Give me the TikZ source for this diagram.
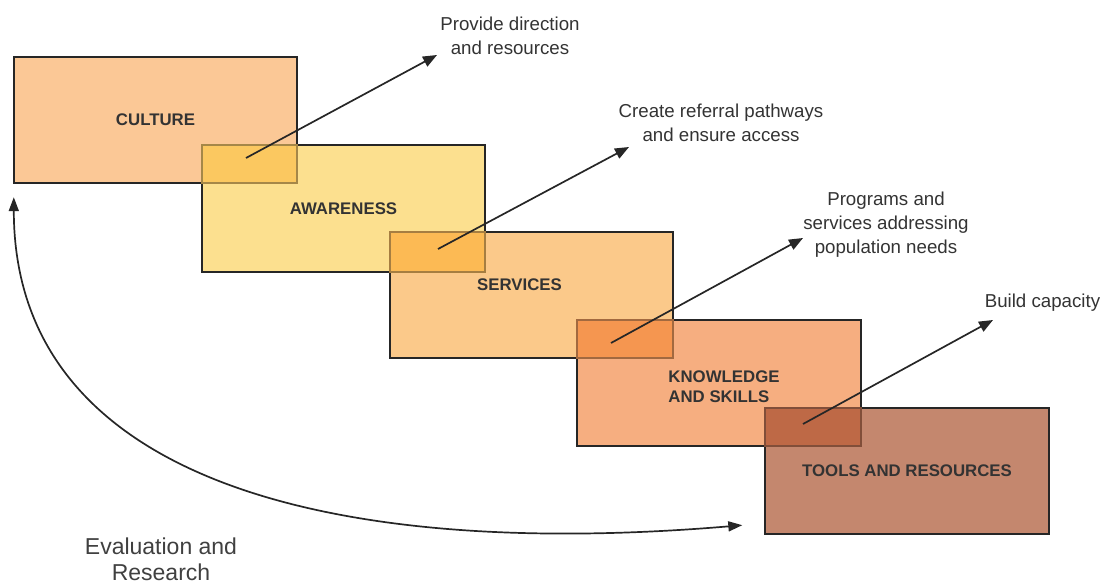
\documentclass[tikz,border=0pt]{standalone}
\usepackage{fontspec}
\setmainfont{Liberation Sans}
\usetikzlibrary{arrows.meta}

\definecolor{culturefill}{HTML}{FBC896}
\definecolor{awarefill}{HTML}{FCE08F}
\definecolor{servicefill}{HTML}{FBC98A}
\definecolor{skillfill}{HTML}{F6AE80}
\definecolor{toolfill}{HTML}{C4876E}
\definecolor{overlapone}{HTML}{FBC860}
\definecolor{overlaptwo}{HTML}{FCBA54}
\definecolor{overlapthree}{HTML}{F59650}
\definecolor{overlapfour}{HTML}{BE6946}

\tikzset{
	stagetext/.style={text=black!80, font=\bfseries\fontsize{16.8}{20}\selectfont},
	stage/.style={fill=#1, minimum width=283pt, minimum height=126pt, inner sep=0pt, stagetext},
	edge/.style={draw=black!85, line width=1.8pt},
	note/.style={align=center, text=black!80, font=\fontsize{18.7}{24}\selectfont},
	flow/.style={-{Triangle[length=14pt,width=11pt]}, line width=1.7pt, draw=black!85},
}

\begin{document}
\begin{tikzpicture}[x=1pt, y=-1pt]
		\useasboundingbox (0,0) rectangle (1105,583);
		\node[stage=culturefill] (culture) at (155.5,120) {CULTURE};
		\node[stage=awarefill] (awareness) at (343.5,208.5) {AWARENESS};
		\node[stage=servicefill, label={[stagetext, xshift=-12pt, yshift=10pt]center:SERVICES}] (services) at (531.5,295) {};
		\node[stage=skillfill, label={[stagetext, align=left, xshift=5pt, yshift=-4pt]center:{KNOWLEDGE\\AND SKILLS}}] (skills) at (719,383) {};
		\node[stage=toolfill] (tools) at (907,471) {TOOLS AND RESOURCES};
		\fill[overlapone] (awareness.north west) rectangle (culture.south east);
		\fill[overlaptwo] (services.north west) rectangle (awareness.south east);
		\fill[overlapthree] (skills.north west) rectangle (services.south east);
		\fill[overlapfour] (tools.north west) rectangle (skills.south east);
		\draw[edge] (culture.north west) rectangle (culture.south east);
		\draw[edge] (awareness.north west) rectangle (awareness.south east);
		\draw[edge] (services.north west) rectangle (services.south east);
		\draw[edge] (skills.north west) rectangle (skills.south east);
		\draw[edge] (tools.north west) rectangle (tools.south east);
		\fill[overlapone, fill opacity=0.6] ([shift={(-1,-1)}]awareness.north west) rectangle ([shift={(1,1)}]culture.south east);
		\fill[overlaptwo, fill opacity=0.6] ([shift={(-1,-1)}]services.north west) rectangle ([shift={(1,1)}]awareness.south east);
		\fill[overlapthree, fill opacity=0.6] ([shift={(-1,-1)}]skills.north west) rectangle ([shift={(1,1)}]services.south east);
		\fill[overlapfour, fill opacity=0.6] ([shift={(-1,-1)}]tools.north west) rectangle ([shift={(1,1)}]skills.south east);
		\node[note] (direction) at (510,36) {Provide direction\\and resources};
		\node[note] (referral) at (721,123) {Create referral pathways\\and ensure access};
		\node[note] (programs) at (886,224.5) {Programs and\\services addressing\\population needs};
		\node[note] (capacity) at (1042.5,303) {Build capacity};
		\node[align=center, text=black!75, font=\fontsize{23}{26}\selectfont] (evaluation) at (161,559) {Evaluation and\\Research};
		\coordinate(dirstart) at (246,158);
		\coordinate(dirtip) at (437,55);
		\coordinate(refstart) at (438,249);
		\coordinate(reftip) at (629,147);
		\coordinate(progstart) at (611,343);
		\coordinate(progtip) at (803,238);
		\coordinate(capstart) at (803,424);
		\coordinate(captip) at (993,320);
		\draw[flow] (dirstart) -- (dirtip);
		\draw[flow] (refstart) -- (reftip);
		\draw[flow] (progstart) -- (progtip);
		\draw[flow] (capstart) -- (captip);
		\draw[flow, {Triangle[length=14pt,width=10pt]}-{Triangle[length=14pt,width=10pt]}] ([yshift=-14pt]culture.south west) .. controls (14,480) and (330,560) .. ([xshift=-23pt, yshift=9pt]tools.south west);
	\end{tikzpicture}
\end{document}
